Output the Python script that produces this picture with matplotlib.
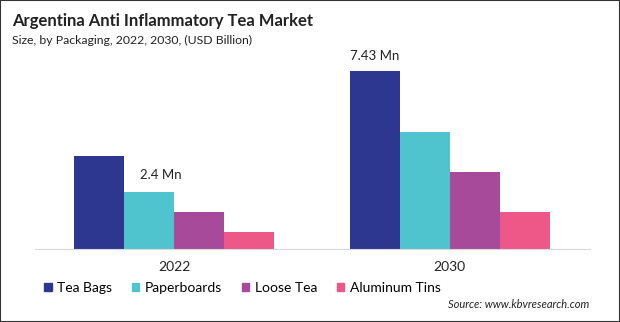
import matplotlib.pyplot as plt
from matplotlib.patches import Patch, Rectangle

years = ["2022", "2030"]
segments = ["Tea Bags", "Paperboards", "Loose Tea", "Aluminum Tins"]
values = {
    "Tea Bags": [3.88, 7.43],
    "Paperboards": [2.37, 4.89],
    "Loose Tea": [1.54, 3.20],
    "Aluminum Tins": [0.70, 1.53],
}
colors = ["#2E3790", "#4FC4CF", "#A84A9A", "#EE5889"]

plt.rcParams["font.family"] = ["Lato", "DejaVu Sans"]

fig = plt.figure(figsize=(6.2, 3.22), dpi=100)
ax = fig.add_axes([35 / 620, 73.5 / 322, 555 / 620, 191 / 322])

w = 0.1815
x = range(len(years))
for i, s in enumerate(segments):
    pos = [k + (i - 1.5) * w for k in x]
    ax.bar(pos, values[s], width=w, color=colors[i])

ax.set_xlim(-0.505, 1.51)
ax.set_ylim(0, 8)
ax.set_yticks([])
for sp in ["top", "right", "left"]:
    ax.spines[sp].set_visible(False)
ax.spines["bottom"].set_color("#d9d9d9")
ax.set_xticks(list(x))
ax.set_xticklabels(years, fontsize=10, color="#222222")
ax.tick_params(axis="x", length=0, pad=9)

# labels
ax.annotate("2.4 Mn", (0 - 0.5 * w, values["Paperboards"][0]), xytext=(8.6, 12.2),
            textcoords="offset points", ha="center", va="center", fontsize=9.5, color="#222222")
ax.annotate("7.43 Mn", (1 - 1.5 * w, values["Tea Bags"][1]), xytext=(0, 10.8),
            textcoords="offset points", ha="center", va="center", fontsize=9.5, color="#222222")

fig.text(12 / 620, 1 - 21 / 322, "Argentina Anti Inflammatory Tea Market", fontsize=12,
         fontweight="bold", color="#222222", va="center")
fig.text(12 / 620, 1 - 40 / 322, "Size, by Packaging, 2022, 2030, (USD Billion)", fontsize=8.8,
         color="#222222", va="center")

handles = [Patch(color=c) for c in colors]
fig.legend(handles, segments, loc="center left", bbox_to_anchor=(44 / 620, 1 - 288 / 322),
           ncol=4, frameon=False, fontsize=10, handlelength=0.55, handleheight=0.55,
           handletextpad=0.4, columnspacing=1.4, borderaxespad=0, borderpad=0)

fig.text(589 / 620, 1 - 304 / 322, "Source: www.kbvresearch.com", fontsize=8, style="italic",
         ha="right", va="center", color="#222222")

fig.patches.append(Rectangle((0, 0), 1, 1, transform=fig.transFigure, fill=False,
                             edgecolor="#333333", linewidth=1.5))

fig.savefig("out.png", dpi=100)
